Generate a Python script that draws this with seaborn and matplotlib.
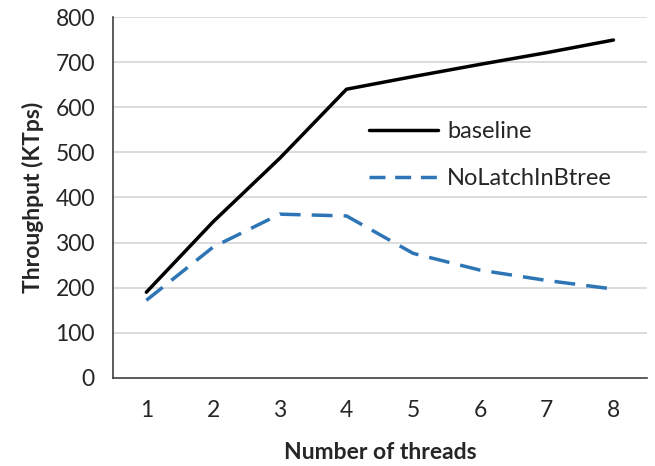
import pandas as pd
import seaborn as sns
import matplotlib.pyplot as plt

threads = [1, 2, 3, 4, 5, 6, 7, 8]
baseline = [190, 346, 487, 640, 668, 695, 721, 749]
nolatch = [172, 290, 363, 359, 276, 239, 216, 197]
y_ticks = [0, 100, 200, 300, 400, 500, 600, 700, 800]

df = pd.DataFrame({"threads": threads, "baseline": baseline, "NoLatchInBtree": nolatch})

sns.set_theme(style="white")
plt.rcParams['font.family'] = ['Lato', 'DejaVu Sans']

fig = plt.figure(figsize=(6.55, 4.66), dpi=100)
ax = fig.add_axes([0.1725, 0.189, 0.815, 0.7745])

for y in y_ticks[1:]:
    ax.axhline(y, color="#d9d9d9", lw=1.3, zorder=0)

sns.lineplot(data=df, x="threads", y="baseline", ax=ax, color="black", lw=2.5,
             label="baseline")
sns.lineplot(data=df, x="threads", y="NoLatchInBtree", ax=ax, color="#2e75b6", lw=2.5,
             label="NoLatchInBtree")
ax.lines[-1].set_dashes((6, 3.2))
ax.lines[-1].set_dash_capstyle("butt")

ax.set_xlim(0.5, 8.5)
ax.set_ylim(0, 800)
ax.set_xticks(threads)
ax.set_yticks(y_ticks)
ax.tick_params(axis="both", labelsize=16.5, length=0)
ax.tick_params(axis="x", pad=16)
ax.tick_params(axis="y", pad=13)

for side in ["top", "right"]:
    ax.spines[side].set_visible(False)
for side in ["left", "bottom"]:
    ax.spines[side].set_color("#404040")
    ax.spines[side].set_linewidth(1.2)

ax.set_xlabel("Number of threads", fontsize=16.5, fontweight="bold", labelpad=15)
ax.set_ylabel("Throughput (KTps)", fontsize=16.5, fontweight="bold", labelpad=8)

leg = ax.legend(loc="upper left", bbox_to_anchor=(0.44, 0.77), frameon=False,
                fontsize=17, handlelength=2.9, handletextpad=0.4, labelspacing=1.1)
leg.get_lines()[1].set_dashes((4.6, 2.8))
leg.get_lines()[1].set_dash_capstyle("butt")

plt.savefig("out.png", dpi=100)
plt.close()
